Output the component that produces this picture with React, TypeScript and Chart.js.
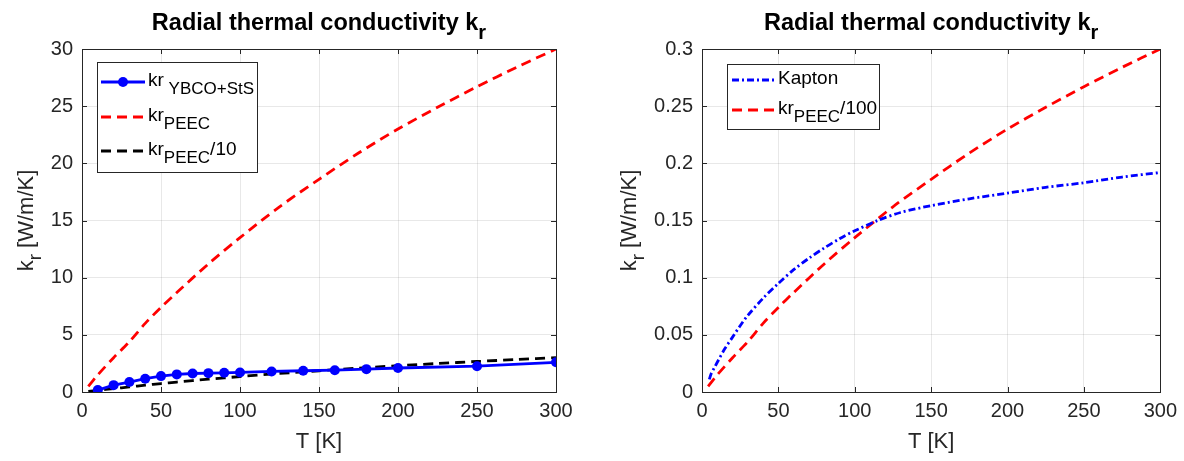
import React, { useEffect, useRef } from "react";
import { Chart, registerables } from "chart.js";

Chart.register(...registerables);

// ---------- data ----------
const T_YBCO = [10, 20, 30, 40, 50, 60, 70, 80, 90, 100, 120, 140, 160, 180, 200, 250, 300];
const KR_YBCO = [0.17, 0.6, 0.87, 1.16, 1.39, 1.54, 1.62, 1.65, 1.68, 1.71, 1.8, 1.86, 1.91, 2.0, 2.1, 2.26, 2.6];

const T_PEEC = [4, 10, 20, 30, 40, 50, 60, 80, 100, 125, 150, 175, 200, 225, 250, 275, 300];
const KR_PEEC = [0.5, 1.5, 3.0, 4.4, 6.0, 7.4, 8.7, 11.2, 13.5, 16.2, 18.6, 20.9, 23.0, 24.9, 26.7, 28.4, 30.0];
const KR_PEEC_10 = [0.05, 0.15, 0.3, 0.44, 0.6, 0.74, 0.87, 1.12, 1.35, 1.62, 1.86, 2.09, 2.3, 2.49, 2.67, 2.84, 3.0];
const KR_PEEC_100 = [0.005, 0.015, 0.03, 0.044, 0.06, 0.074, 0.087, 0.112, 0.135, 0.162, 0.186, 0.209, 0.23, 0.249, 0.267, 0.284, 0.3];

const T_KAPTON = [4.8, 6, 8, 10, 15, 20, 25, 30, 40, 50, 60, 70, 80, 90, 100, 115, 130, 150, 175, 200, 225, 250, 275, 300];
const KR_KAPTON = [0.011, 0.016, 0.021, 0.026, 0.038, 0.048, 0.058, 0.067, 0.082, 0.095, 0.107, 0.117, 0.126, 0.134, 0.141, 0.15, 0.157, 0.163, 0.169, 0.174, 0.179, 0.183, 0.188, 0.192];

const X_TICKS = [0, 50, 100, 150, 200, 250, 300];
const Y_TICKS_LEFT = [0, 5, 10, 15, 20, 25, 30];
const Y_TICKS_RIGHT = [0, 0.05, 0.1, 0.15, 0.2, 0.25, 0.3];

const TITLE_MAIN = "Radial thermal conductivity k";
const TITLE_SUB = "r";
const X_TITLE = "T [K]";

// ---------- helpers ----------
const FONT = '"Liberation Sans", Arial, Helvetica, sans-serif';
const AX = "#262626";
const TICK_SIZE = 20;
const LABEL_SIZE = 22;
const LW = 2.8;

const pts = (xs: number[], ys: number[]) => xs.map((x, i) => ({ x, y: ys[i] }));

type Seg = { t: string; sub?: boolean };
type LegendEntry = { segs: Seg[]; color: string; dash: number[]; marker?: boolean };

function drawRich(ctx: CanvasRenderingContext2D, segs: Seg[], x: number, y: number, size: number, subSize: number, bold = false, measureOnly = false, subDy = 8) {
  let cx = x;
  for (const s of segs) {
    ctx.font = `${bold ? "bold " : ""}${s.sub ? subSize : size}px ${FONT}`;
    if (!measureOnly) ctx.fillText(s.t, cx, s.sub ? y + subDy : y);
    cx += ctx.measureText(s.t).width;
  }
  return cx - x;
}

function makeDeco(opts: {
  yTitleX: number;
  legend: { x: number; y: number; w: number; h: number; rows: number[]; lineX0: number; lineX1: number; textX: number; entries: LegendEntry[] };
}) {
  return {
    id: "deco",
    afterDraw(chart: any) {
      const ctx: CanvasRenderingContext2D = chart.ctx;
      const a = chart.chartArea;
      const xs = chart.scales.x;
      const ys = chart.scales.y;
      ctx.save();
      // inward ticks
      ctx.strokeStyle = AX;
      ctx.lineWidth = 1;
      ctx.beginPath();
      for (const v of xs.ticks.map((t: any) => t.value)) {
        const px = Math.round(xs.getPixelForValue(v)) + 0.5;
        ctx.moveTo(px, a.bottom);
        ctx.lineTo(px, a.bottom - 5);
        ctx.moveTo(px, a.top);
        ctx.lineTo(px, a.top + 5);
      }
      for (const v of ys.ticks.map((t: any) => t.value)) {
        const py = Math.round(ys.getPixelForValue(v)) + 0.5;
        ctx.moveTo(a.left, py);
        ctx.lineTo(a.left + 5, py);
        ctx.moveTo(a.right, py);
        ctx.lineTo(a.right - 5, py);
      }
      ctx.stroke();
      // box
      ctx.strokeRect(Math.round(a.left) + 0.5, Math.round(a.top) + 0.5, Math.round(a.right - a.left), Math.round(a.bottom - a.top));

      // title
      ctx.fillStyle = "#000";
      ctx.textBaseline = "alphabetic";
      ctx.textAlign = "left";
      const tsegs: Seg[] = [{ t: TITLE_MAIN }, { t: TITLE_SUB, sub: true }];
      const tw = drawRich(ctx, tsegs, 0, 0, 23.5, 20, true, true);
      drawRich(ctx, tsegs, (a.left + a.right) / 2 - tw / 2, 30, 23.5, 20, true, false, 9);

      // x title
      ctx.fillStyle = AX;
      ctx.font = `${LABEL_SIZE}px ${FONT}`;
      ctx.textAlign = "center";
      ctx.fillText(X_TITLE, (a.left + a.right) / 2, 448);

      // y title
      ctx.textAlign = "left";
      const ysegs: Seg[] = [{ t: "k" }, { t: "r", sub: true }, { t: " [W/m/K]" }];
      const yw = drawRich(ctx, ysegs, 0, 0, LABEL_SIZE, 19, false, true);
      ctx.save();
      ctx.translate(opts.yTitleX, (a.top + a.bottom) / 2);
      ctx.rotate(-Math.PI / 2);
      drawRich(ctx, ysegs, -yw / 2, 0, LABEL_SIZE, 19);
      ctx.restore();

      // legend
      const L = opts.legend;
      ctx.fillStyle = "#fff";
      ctx.fillRect(L.x, L.y, L.w, L.h);
      ctx.strokeStyle = AX;
      ctx.lineWidth = 1;
      ctx.strokeRect(L.x + 0.5, L.y + 0.5, L.w, L.h);
      L.entries.forEach((e, i) => {
        const ry = L.rows[i];
        ctx.strokeStyle = e.color;
        ctx.lineWidth = LW;
        ctx.setLineDash(e.dash);
        ctx.beginPath();
        ctx.moveTo(L.lineX0, ry);
        ctx.lineTo(L.lineX1, ry);
        ctx.stroke();
        ctx.setLineDash([]);
        if (e.marker) {
          ctx.fillStyle = e.color;
          ctx.beginPath();
          ctx.arc((L.lineX0 + L.lineX1) / 2, ry, 5, 0, Math.PI * 2);
          ctx.fill();
        }
        ctx.fillStyle = "#000";
        drawRich(ctx, e.segs, L.textX, ry + 4, 19, 17);
      });
      ctx.restore();
    },
  };
}

function baseOptions(yMin: number, yMax: number, yWidth: number, padRight: number, yTicks: number[]) {
  return {
    responsive: false,
    animation: false as const,
    layout: { padding: { left: 0, right: padRight, top: 49, bottom: 0 } },
    plugins: { legend: { display: false }, title: { display: false }, tooltip: { enabled: false } },
    scales: {
      x: {
        type: "linear" as const,
        min: 0,
        max: 300,
        afterBuildTicks: (s: any) => {
          s.ticks = X_TICKS.map((v) => ({ value: v }));
        },
        ticks: { color: AX, font: { family: FONT, size: TICK_SIZE }, padding: 7, maxRotation: 0 },
        grid: { color: "rgba(0,0,0,0.09)", drawTicks: false },
        border: { display: false },
        afterFit: (s: any) => {
          s.height = 69;
        },
      },
      y: {
        type: "linear" as const,
        min: yMin,
        max: yMax,
        afterBuildTicks: (s: any) => {
          s.ticks = yTicks.map((v) => ({ value: v }));
        },
        ticks: {
          color: AX,
          font: { family: FONT, size: TICK_SIZE },
          padding: 9,
          callback: (v: any) => String(parseFloat(Number(v).toFixed(3))),
        },
        grid: { color: "rgba(0,0,0,0.09)", drawTicks: false },
        border: { display: false },
        afterFit: (s: any) => {
          s.width = yWidth;
        },
      },
    },
  };
}

function LeftChart() {
  const ref = useRef<HTMLCanvasElement>(null);
  useEffect(() => {
    const opts: any = baseOptions(0, 30, 82, 36, Y_TICKS_LEFT);
    const chart = new Chart(ref.current!, {
      type: "line",
      data: {
        datasets: [
          { label: "kr YBCO+StS", data: pts(T_YBCO, KR_YBCO), borderColor: "#0000ff", backgroundColor: "#0000ff", borderWidth: LW, pointRadius: 5, pointBackgroundColor: "#0000ff", pointBorderWidth: 0, tension: 0 },
          { label: "kr PEEC", data: pts(T_PEEC, KR_PEEC), borderColor: "#ff0000", borderWidth: LW, borderDash: [10, 6], pointRadius: 0, tension: 0.3 },
          { label: "kr PEEC/10", data: pts(T_PEEC, KR_PEEC_10), borderColor: "#000000", borderWidth: LW, borderDash: [10, 6], pointRadius: 0, tension: 0.3 },
        ],
      },
      options: opts,
      plugins: [
        makeDeco({
          yTitleX: 33,
          legend: {
            x: 97, y: 62, w: 160, h: 110, rows: [82, 117, 151], lineX0: 101, lineX1: 145, textX: 148,
            entries: [
              { segs: [{ t: "kr" }, { t: " YBCO+StS", sub: true }], color: "#0000ff", dash: [], marker: true },
              { segs: [{ t: "kr" }, { t: "PEEC", sub: true }], color: "#ff0000", dash: [10, 6] },
              { segs: [{ t: "kr" }, { t: "PEEC", sub: true }, { t: "/10" }], color: "#000000", dash: [10, 6] },
            ],
          },
        }),
      ],
    });
    return () => chart.destroy();
  }, []);
  return <canvas ref={ref} width={592} height={461} style={{ width: 592, height: 461, display: "block" }} />;
}

function RightChart() {
  const ref = useRef<HTMLCanvasElement>(null);
  useEffect(() => {
    const opts: any = baseOptions(0, 0.3, 110, 23, Y_TICKS_RIGHT);
    const chart = new Chart(ref.current!, {
      type: "line",
      data: {
        datasets: [
          { label: "Kapton", data: pts(T_KAPTON, KR_KAPTON), borderColor: "#0000ff", borderWidth: LW, borderDash: [7, 3, 2, 3], pointRadius: 0, tension: 0.3 },
          { label: "kr PEEC/100", data: pts(T_PEEC, KR_PEEC_100), borderColor: "#ff0000", borderWidth: LW, borderDash: [10, 6], pointRadius: 0, tension: 0.3 },
        ],
      },
      options: opts,
      plugins: [
        makeDeco({
          yTitleX: 44,
          legend: {
            x: 135, y: 64, w: 152, h: 65, rows: [80, 110], lineX0: 140, lineX1: 183, textX: 186,
            entries: [
              { segs: [{ t: "Kapton" }], color: "#0000ff", dash: [7, 3, 2, 3] },
              { segs: [{ t: "kr" }, { t: "PEEC", sub: true }, { t: "/100" }], color: "#ff0000", dash: [10, 6] },
            ],
          },
        }),
      ],
    });
    return () => chart.destroy();
  }, []);
  return <canvas ref={ref} width={592} height={461} style={{ width: 592, height: 461, display: "block" }} />;
}

export default function App() {
  return (
    <div style={{ position: "absolute", left: 0, top: 0, width: 1184, height: 461, display: "flex", background: "#fff" }}>
      <LeftChart />
      <RightChart />
    </div>
  );
}
